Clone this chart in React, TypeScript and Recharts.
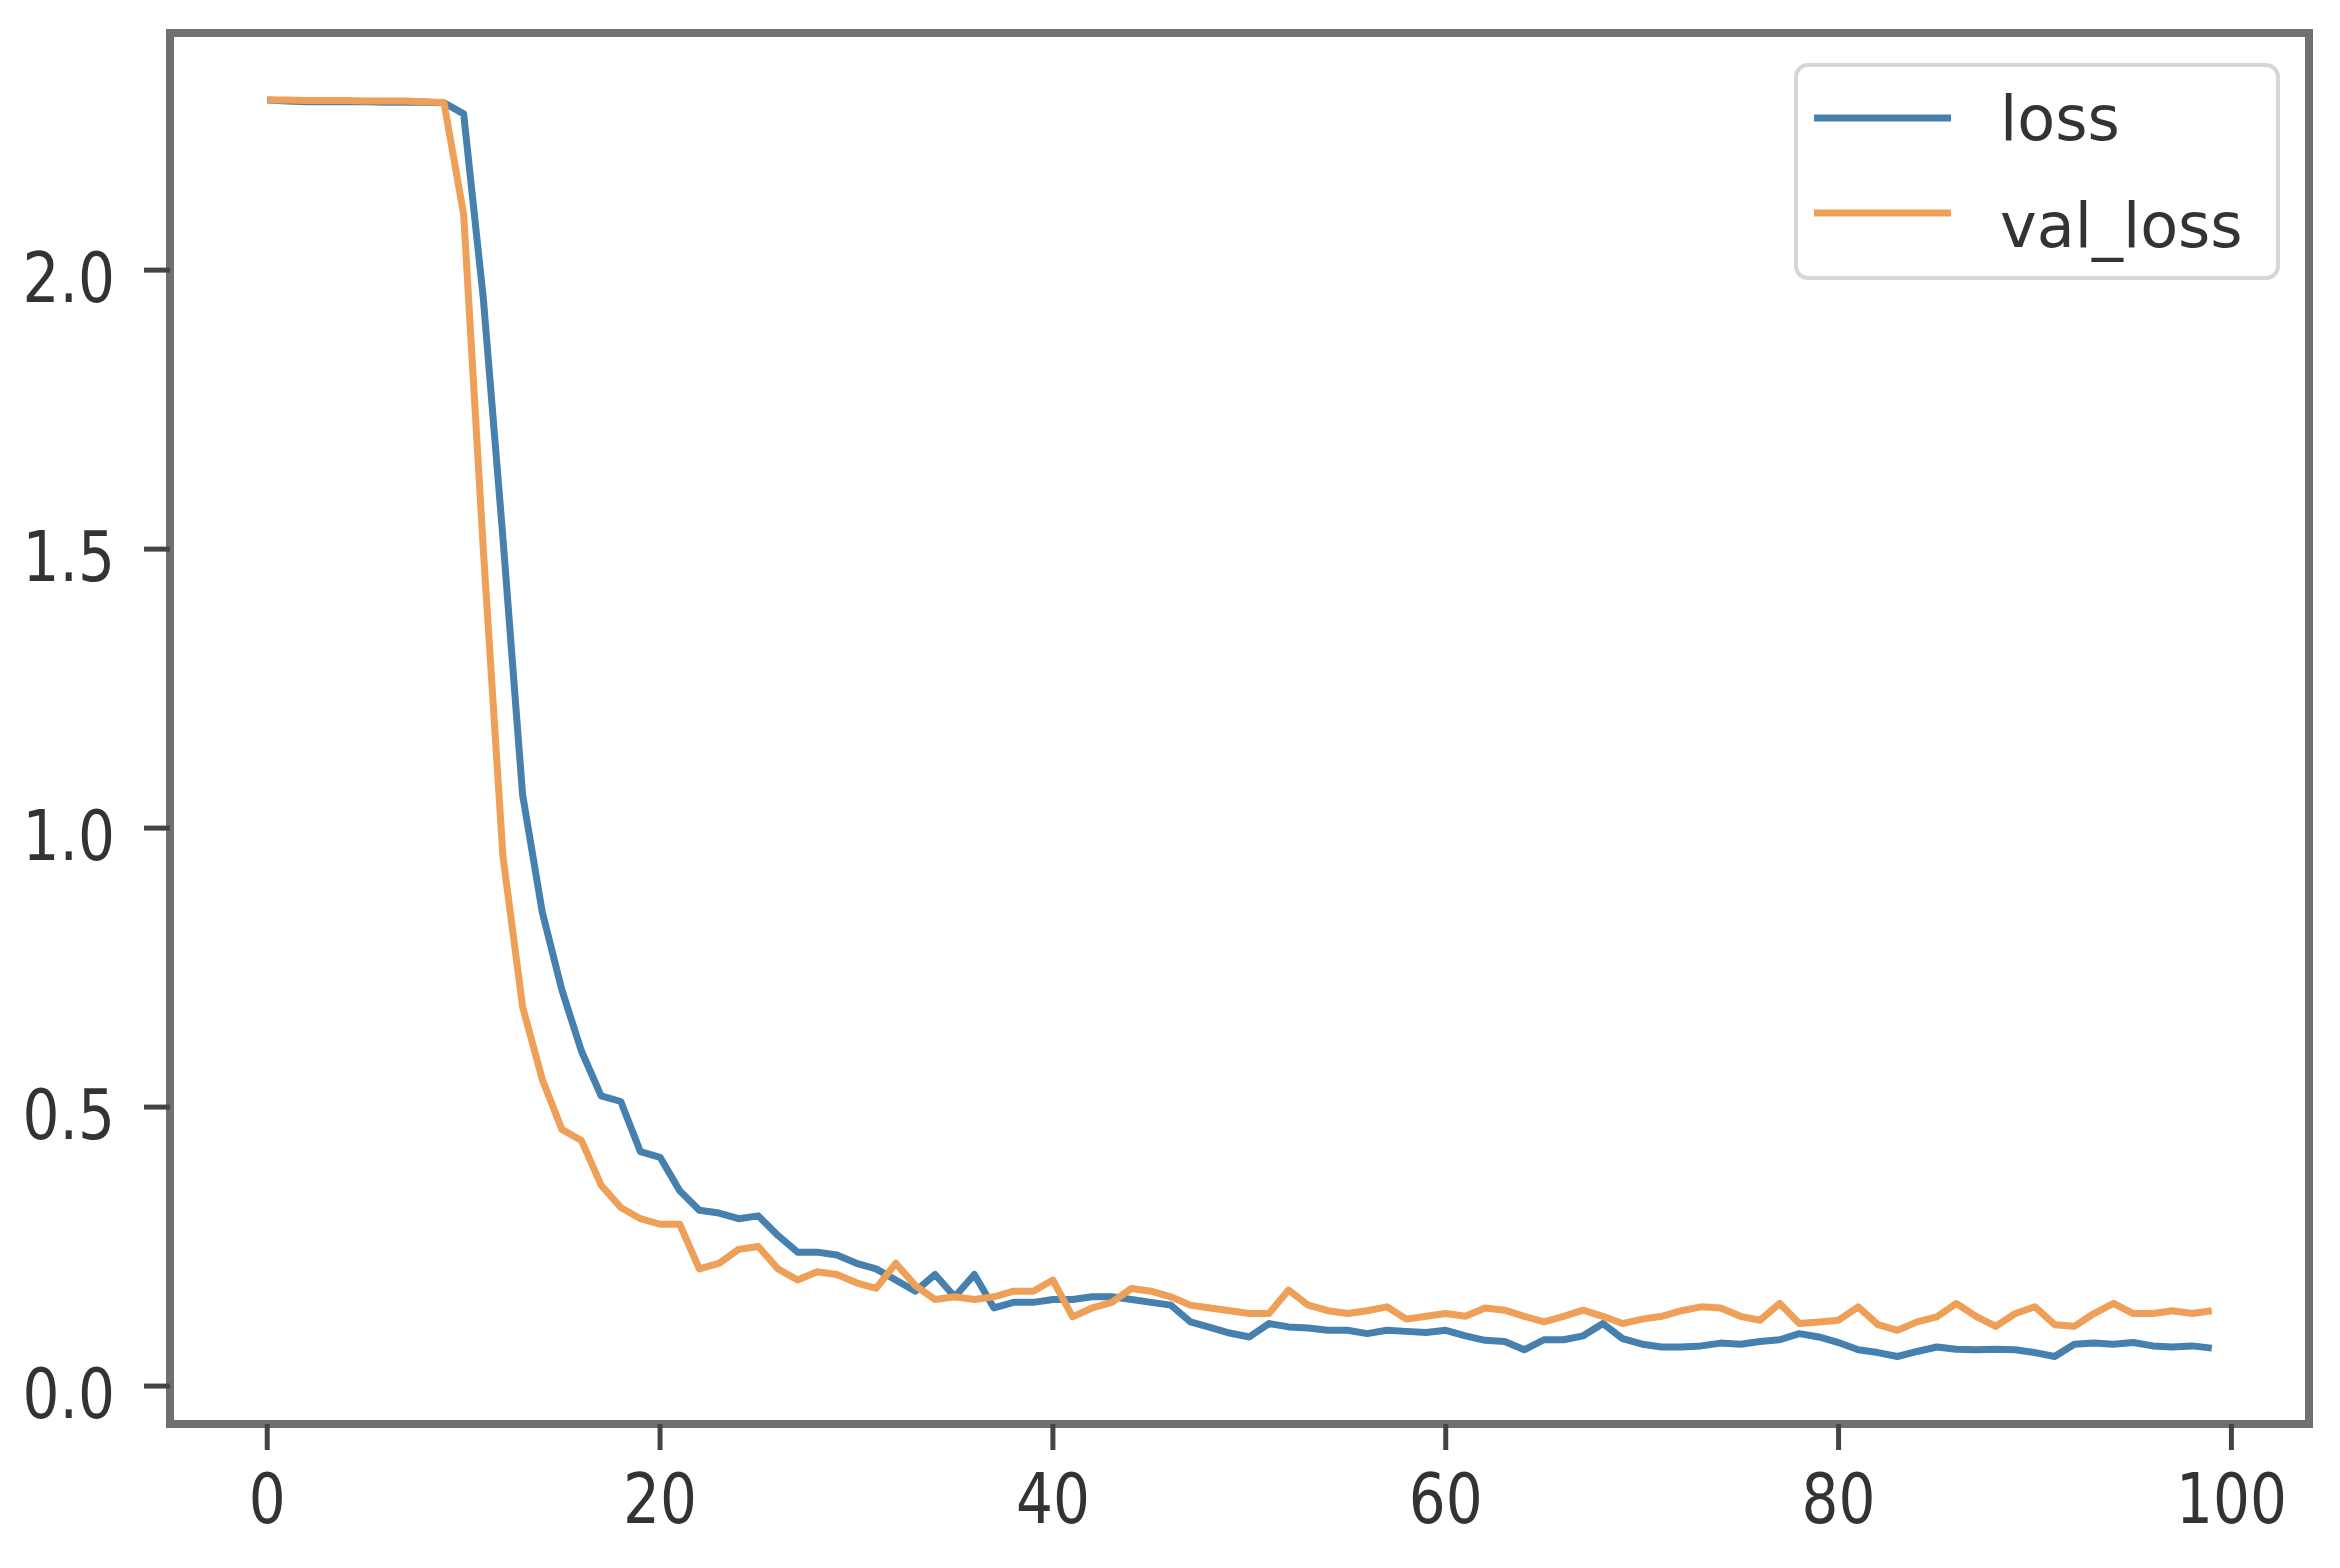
import { LineChart, Line, XAxis, YAxis, Legend, ReferenceArea } from 'recharts';

// training history, one value per epoch (0..99)
const loss = [
  2.305, 2.303, 2.302, 2.302, 2.302, 2.302, 2.301, 2.301, 2.301, 2.3,
  2.28, 1.95, 1.52, 1.06, 0.85, 0.71, 0.6, 0.52, 0.51, 0.42,
  0.41, 0.35, 0.315, 0.31, 0.3, 0.305, 0.27, 0.24, 0.24, 0.235,
  0.22, 0.21, 0.19, 0.17, 0.2, 0.16, 0.2, 0.14, 0.15, 0.15,
  0.155, 0.155, 0.16, 0.16, 0.155, 0.15, 0.145, 0.115, 0.105, 0.095,
  0.088, 0.112, 0.106, 0.104, 0.1, 0.1, 0.094, 0.1, 0.098, 0.096,
  0.1, 0.09, 0.082, 0.08, 0.065, 0.083, 0.083, 0.09, 0.112, 0.085,
  0.075, 0.07, 0.07, 0.072, 0.077, 0.075, 0.08, 0.083, 0.094, 0.088,
  0.078, 0.065, 0.06, 0.053, 0.062, 0.07, 0.066, 0.065, 0.066, 0.065,
  0.06, 0.053, 0.075, 0.077, 0.075, 0.078, 0.072, 0.07, 0.072, 0.068,
];

const valLoss = [
  2.305, 2.305, 2.304, 2.304, 2.304, 2.303, 2.303, 2.303, 2.302, 2.3,
  2.1, 1.5, 0.95, 0.68, 0.55, 0.46, 0.44, 0.36, 0.32, 0.3,
  0.29, 0.29, 0.21, 0.22, 0.245, 0.25, 0.21, 0.19, 0.205, 0.2,
  0.185, 0.175, 0.22, 0.18, 0.155, 0.16, 0.155, 0.16, 0.17, 0.17,
  0.19, 0.124, 0.14, 0.15, 0.175, 0.17, 0.16, 0.145, 0.14, 0.135,
  0.13, 0.13, 0.172, 0.145, 0.135, 0.13, 0.135, 0.142, 0.12, 0.125,
  0.13, 0.125, 0.14, 0.136, 0.125, 0.115, 0.125, 0.136, 0.125, 0.112,
  0.12, 0.125, 0.135, 0.142, 0.14, 0.125, 0.118, 0.148, 0.112, 0.115,
  0.118, 0.142, 0.11, 0.1, 0.115, 0.124, 0.148, 0.125, 0.107, 0.13,
  0.142, 0.11, 0.107, 0.13, 0.148, 0.13, 0.13, 0.135, 0.13, 0.135,
];

const xTicks = [0, 20, 40, 60, 80, 100];
const yTicks = [0, 0.5, 1.0, 1.5, 2.0];

const data = loss.map((v, i) => ({ epoch: i, loss: v, val_loss: valLoss[i] }));

const BLUE = '#4580ae';
const ORANGE = '#ee9f58';
const FONT = 'DejaVu Sans, sans-serif';

const XTick = ({ x, y, payload }: any) => (
  <g transform={`translate(${x},${y + 73}) scale(0.83,1)`}>
    <text textAnchor="middle" fontFamily={FONT} fontSize={70} fill="#333">
      {payload.value}
    </text>
  </g>
);

const YTick = ({ x, y, payload }: any) => (
  <g transform={`translate(${x - 29},${y + 32}) scale(0.83,1)`}>
    <text textAnchor="end" fontFamily={FONT} fontSize={70} fill="#333">
      {Number(payload.value).toFixed(1)}
    </text>
  </g>
);

const LegendBox = () => (
  <svg width={486} height={217}>
    <rect x={2} y={2} width={482} height={213} rx={12} fill="#fff" stroke="#d6d6d6" strokeWidth={4} />
    <line x1={20} x2={157} y1={55} y2={55} stroke={BLUE} strokeWidth={7} />
    <line x1={20} x2={157} y1={150} y2={150} stroke={ORANGE} strokeWidth={7} />
    <text x={206} y={77} fontFamily={FONT} fontSize={62} fill="#333">loss</text>
    <text x={206} y={184} fontFamily={FONT} fontSize={62} fill="#333">val_loss</text>
  </svg>
);

export default function App() {
  return (
    <div style={{ position: 'absolute', left: 0, top: 0, background: '#fff' }}>
      <LineChart width={2340} height={1568} data={data} margin={{ top: 33, right: 31, bottom: 0, left: 0 }}>
        <XAxis
          dataKey="epoch"
          type="number"
          domain={[-4.95, 103.95]}
          ticks={xTicks}
          allowDataOverflow
          height={144}
          axisLine={false}
          tickSize={26}
          tickMargin={0}
          tickLine={{ stroke: '#444', strokeWidth: 5 }}
          tick={<XTick />}
        />
        <YAxis
          type="number"
          domain={[-0.068, 2.425]}
          ticks={yTicks}
          allowDataOverflow
          width={170}
          axisLine={false}
          tickSize={26}
          tickMargin={0}
          tickLine={{ stroke: '#444', strokeWidth: 5 }}
          tick={<YTick />}
        />
        <ReferenceArea
          x1={-4.95}
          x2={103.95}
          y1={-0.068}
          y2={2.425}
          fill="none"
          stroke="#707070"
          strokeWidth={8}
          ifOverflow="visible"
        />
        <Line type="linear" dataKey="loss" stroke={BLUE} strokeWidth={7} strokeLinejoin="round" dot={false} isAnimationActive={false} />
        <Line type="linear" dataKey="val_loss" stroke={ORANGE} strokeWidth={7} strokeLinejoin="round" dot={false} isAnimationActive={false} />
        <Legend
          layout="vertical"
          align="center"
          verticalAlign="middle"
          content={<LegendBox />}
          wrapperStyle={{ left: 1794, top: 63, width: 486, height: 217 }}
        />
      </LineChart>
    </div>
  );
}
